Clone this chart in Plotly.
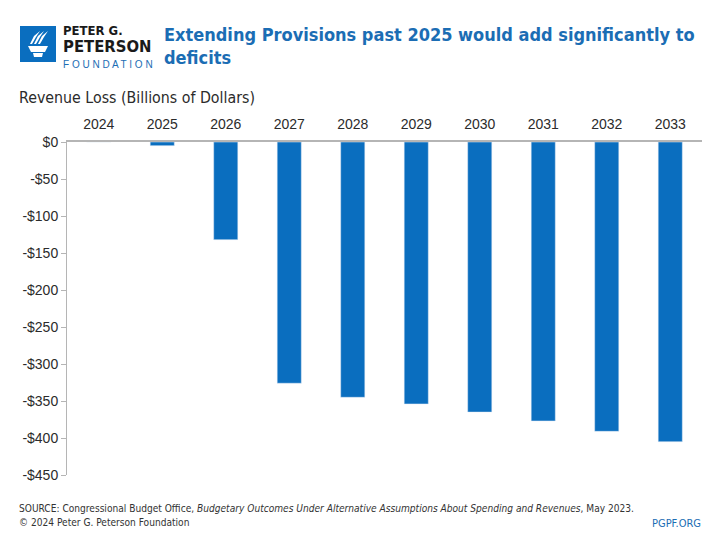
import plotly.graph_objects as go

years = ["2024", "2025", "2026", "2027", "2028", "2029", "2030", "2031", "2032", "2033"]
revenue_loss = [0, -5, -132, -326, -345, -354, -365, -377, -391, -405]
y_tick_vals = [0, -50, -100, -150, -200, -250, -300, -350, -400, -450]
y_tick_text = ["$0", "-$50", "-$100", "-$150", "-$200", "-$250", "-$300", "-$350", "-$400", "-$450"]

OFF = 8  # page body margin
W, H = 720 - OFF, 540 - OFF
L, R, T, B = 67 - OFF, 18, 142 - OFF, 65
PW, PH = W - L - R, H - T - B

def px(x):
    return (x - OFF - L) / PW

def py(y):
    return (H - B - (y - OFF)) / PH

BAR = "#0a6ebf"
TITLE = "#1b6db4"
TXT = "#2b2b2b"
GRID = "#b5b5b5"
COND = "DejaVu Sans Condensed"

fig = go.Figure(go.Bar(x=years, y=revenue_loss, marker_color=BAR, width=0.38))

fig.update_layout(
    width=W, height=H,
    margin=dict(l=L, r=R, t=T, b=B),
    paper_bgcolor="white", plot_bgcolor="white",
    showlegend=False,
    font=dict(family="Liberation Sans", color=TXT),
)
fig.update_xaxes(side="top", showline=True, linecolor=GRID, linewidth=1.5,
                 ticks="", showgrid=False, tickfont=dict(size=14, color=TXT),
                 ticklabelstandoff=6)
fig.update_yaxes(range=[-450, 0], tickvals=y_tick_vals, ticktext=y_tick_text,
                 showgrid=False, zeroline=False, showline=True, linecolor=GRID,
                 linewidth=1, ticks="outside", ticklen=5, tickcolor=GRID,
                 tickfont=dict(size=14, color=TXT))

def note(text, x, y, size, color, family=COND, weight="normal", xanchor="left"):
    return dict(text=text, x=px(x), y=py(y), xref="paper", yref="paper",
                xanchor=xanchor, yanchor="middle", align="left", showarrow=False,
                font=dict(family=family, size=size, color=color, weight=weight))

logo_text = ("<b><span style='font-size:13px'>PETER G.</span></b><br>"
             "<b><span style='font-size:16.5px'>PETERSON</span></b><br>"
             "<span style='font-size:10px;color:" + TITLE + ";font-family:Liberation Sans'>F O U N D A T I O N</span>")

ann = [
    note("Extending Provisions past 2025 would add significantly to", 162, 34, 18, TITLE, weight="bold"),
    note("deficits", 162, 58, 18, TITLE, weight="bold"),
    note("Revenue Loss (Billions of Dollars)", 17, 97, 15.8, TXT),
    note(logo_text, 61, 46, 12.8, "#1a1a1a"),
    note("SOURCE: Congressional Budget Office, <i>Budgetary Outcomes Under Alternative Assumptions About Spending and Revenues</i>, May 2023.",
         17, 508, 10.1, "#333333"),
    note("© 2024 Peter G. Peterson Foundation", 17, 522, 10.1, "#333333"),
    note("PGPF.ORG", 703, 523, 11, TITLE, xanchor="right"),
]
fig.update_layout(annotations=ann)

# logo square and torch
shapes = [dict(type="rect", xref="paper", yref="paper", x0=px(20), x1=px(56), y0=py(62), y1=py(26),
               fillcolor=BAR, line=dict(width=0), layer="above")]

def path(points):
    return "M " + " L ".join(f"{px(a):.5f},{py(b):.5f}" for a, b in points) + " Z"

shapes.append(dict(type="path", xref="paper", yref="paper",
                   path=path([(28, 46), (48, 46), (45, 52), (31, 52)]),
                   fillcolor="white", line=dict(width=0), layer="above"))
shapes.append(dict(type="path", xref="paper", yref="paper",
                   path=path([(33, 53), (43, 53), (42, 57), (34, 57)]),
                   fillcolor="white", line=dict(width=0), layer="above"))
for dx in (0, 4, 8):
    shapes.append(dict(type="path", xref="paper", yref="paper",
                       path=path([(30 + dx, 44), (34 + dx, 36), (40 + dx, 31), (36 + dx, 37), (32 + dx, 44)]),
                       fillcolor="white", line=dict(width=0), layer="above"))
fig.update_layout(shapes=shapes)

fig.write_html("out.html")
